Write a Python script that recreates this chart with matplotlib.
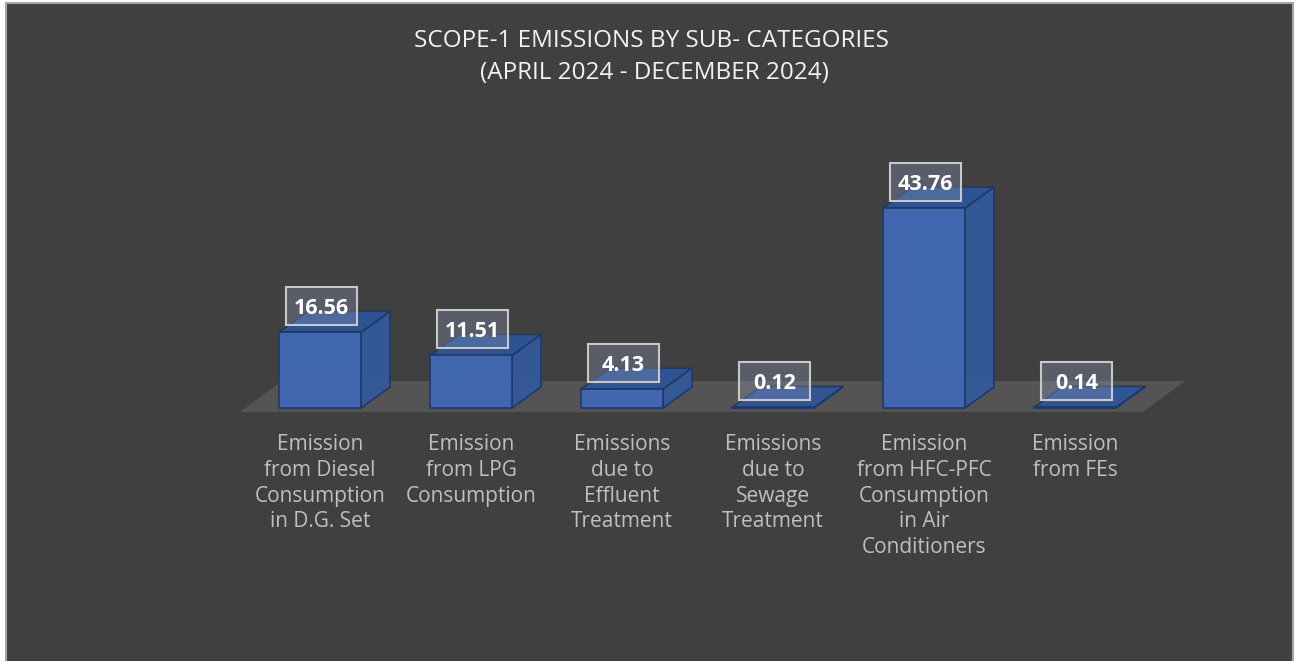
import numpy as np
import matplotlib.pyplot as plt
from matplotlib.patches import Polygon, Rectangle

# Scope-1 emissions, April-December 2024
categories = ["Emission\nfrom Diesel\nConsumption\nin D.G. Set",
              "Emission\nfrom LPG\nConsumption",
              "Emissions\ndue to\nEffluent\nTreatment",
              "Emissions\ndue to\nSewage\nTreatment",
              "Emission\nfrom HFC-PFC\nConsumption\nin Air\nConditioners",
              "Emission\nfrom FEs"]
values = [16.56, 11.51, 4.13, 0.12, 43.76, 0.14]

W, H = 1299, 661
BG = '#404040'
FRONT = '#4169b6'
TOP = '#2f5597'
SIDE = '#34599b'
EDGE = '#1f3864'

# pixel layout of the plotting region
x0_px, y0_px = 320, 408        # centre of first bar, floor line
px_cat, px_unit = 151, 4.57    # pixels per category / per value unit
xlim = (-1.0, 6.0)
ylim = (-12.0, 60.0)

fig = plt.figure(figsize=(W/100, H/100), dpi=100)
fig.patch.set_facecolor('white')
fig.patches.append(Rectangle((6/W, -0.05), (W-12)/W, 1.05-3/H, transform=fig.transFigure,
                             facecolor=BG, edgecolor='#a6a6a6', lw=1.5, zorder=-1))

left = (x0_px + xlim[0]*px_cat)/W
width = (xlim[1]-xlim[0])*px_cat/W
bottom = (H - (y0_px - ylim[0]*px_unit))/H
height = (ylim[1]-ylim[0])*px_unit/H
ax = fig.add_axes([left, bottom, width, height])
ax.set_xlim(*xlim)
ax.set_ylim(*ylim)
ax.axis('off')

# depth of bars and floor, in data units
bw = 82/px_cat
ddx, ddy = 29/px_cat, 21/px_unit
fdx, fdy = 42/px_cat, 31/px_unit
f0 = -4/px_unit
fl, fr = -0.53, 5.45
lbl_w, lbl_h = 71/px_cat, 38/px_unit

ax.add_patch(Polygon([(fl, f0), (fr, f0), (fr+fdx, f0+fdy), (fl+fdx, f0+fdy)],
                     closed=True, facecolor='#545454', edgecolor='none', zorder=1))

for i, v in enumerate(values):
    xl, xr = i - bw/2, i + bw/2
    # faint hidden edges (bars are slightly see-through)
    ax.plot([xl+ddx, xl+ddx, xr+ddx], [v+ddy, ddy, ddy], color=EDGE, lw=0.8, alpha=0.35, zorder=2)
    ax.plot([xl, xl+ddx], [0, ddy], color=EDGE, lw=0.8, alpha=0.35, zorder=2)
    side = Polygon([(xr, 0), (xr+ddx, ddy), (xr+ddx, v+ddy), (xr, v)], closed=True,
                   facecolor=SIDE, edgecolor=EDGE, lw=1.2, alpha=0.95, zorder=3)
    top = Polygon([(xl, v), (xr, v), (xr+ddx, v+ddy), (xl+ddx, v+ddy)], closed=True,
                  facecolor=TOP, edgecolor=EDGE, lw=1.2, alpha=0.95, zorder=3)
    front = Rectangle((xl, 0), bw, v, facecolor=FRONT, edgecolor=EDGE, lw=1.2,
                      alpha=0.95, zorder=4)
    for p in (side, top, front):
        ax.add_patch(p)
    # value label in a translucent box
    cx, cy = i + 0.01, v + 26/px_unit
    ax.add_patch(Rectangle((cx - lbl_w/2, cy - lbl_h/2), lbl_w, lbl_h, facecolor='#8595b5',
                           alpha=0.35, edgecolor='none', zorder=5))
    ax.add_patch(Rectangle((cx - lbl_w/2, cy - lbl_h/2), lbl_w, lbl_h, facecolor='none',
                           edgecolor='#c8c8c8', lw=1.5, zorder=5))
    ax.text(cx, cy, f"{v:.2f}", ha='center', va='center_baseline',
            fontsize=15.5, fontweight='bold', color='white', family='Open Sans', zorder=6)
    ax.text(i, -(434-y0_px)/px_unit, categories[i], ha='center', va='top',
            fontsize=15, color='#bfbfbf', family='Open Sans', linespacing=1.3, zorder=5)

fig.text(652/W, 1-41/H, "SCOPE-1 EMISSIONS BY SUB- CATEGORIES", ha='center', va='center',
         fontsize=17.5, color='#f2f2f2', family='Open Sans')
fig.text(654/W, 1-73/H, "(APRIL 2024 - DECEMBER 2024)", ha='center', va='center',
         fontsize=17.5, color='#f2f2f2', family='Open Sans')

fig.savefig('out.png', dpi=100, facecolor=fig.get_facecolor())
